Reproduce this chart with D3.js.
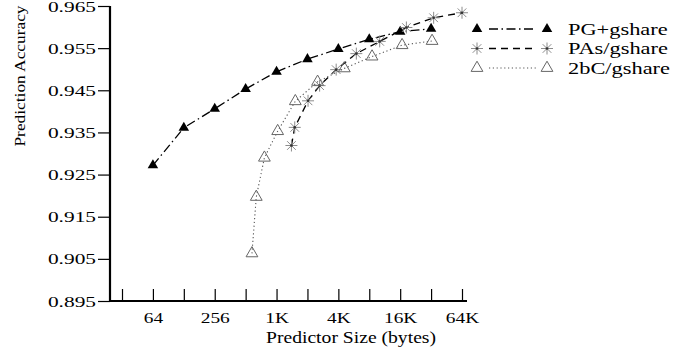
<!DOCTYPE html>
<html><head><meta charset="utf-8">
<script src="https://cdn.jsdelivr.net/npm/d3@7"></script>
<style>body{margin:0;background:#fff}svg{display:block}text{font-family:"Liberation Serif","Times New Roman",serif;fill:#000}</style>
</head><body><svg id="c" width="697" height="352"></svg>
<script>
// ---- data ----
const seriesNames = ["PG+gshare", "PAs/gshare", "2bC/gshare"];
const pgSize  = [64, 128, 256, 512, 1024, 2048, 4096, 8192, 16384, 32768];
const pgAcc   = [0.9272, 0.9361, 0.9406, 0.9453, 0.9494, 0.9524, 0.9548, 0.9571, 0.9589, 0.9596];
const pasSize = [1430, 1540, 2075, 2690, 3900, 6130, 10350, 18830, 34700, 65536];
const pasAcc  = [0.9319, 0.9362, 0.9425, 0.9461, 0.9499, 0.9537, 0.9566, 0.9599, 0.9622, 0.9634];
const bcSize  = [590, 650, 780, 1050, 1560, 2570, 4680, 8720, 17100, 33500];
const bcAcc   = [0.9063, 0.9197, 0.9290, 0.9353, 0.9424, 0.9470, 0.9502, 0.9530, 0.9557, 0.9567];
const xTickValues = [32, 64, 128, 256, 512, 1024, 2048, 4096, 8192, 16384, 32768, 65536];
const xTickLabels = ["", "64", "", "256", "", "1K", "", "4K", "", "16K", "", "64K"];
const yTickValues = [0.895, 0.905, 0.915, 0.925, 0.935, 0.945, 0.955, 0.965];
const yTickLabels = ["0.895", "0.905", "0.915", "0.925", "0.935", "0.945", "0.955", "0.965"];
const xTitle = "Predictor Size (bytes)";
const yTitle = "Prediction Accuracy";

// ---- layout ----
const svg = d3.select("#c");
const x = d3.scaleLog().base(2).domain([32, 65536]).range([122, 462]);
const y = d3.scaleLinear().domain([0.895, 0.965]).range([301, 6]);
const axisLeftX = 110, axisBottomY = 301, axisRightX = 467;

// axes
const gy = svg.append("g").attr("transform", `translate(${axisLeftX},0)`)
  .call(d3.axisLeft(y).tickValues(yTickValues).tickFormat((d,i)=>yTickLabels[i]).tickSize(12).tickSizeOuter(0));
gy.select(".domain").remove();
gy.selectAll(".tick line").attr("stroke", "#000").attr("stroke-width", 1.2);
gy.selectAll(".tick text").attr("font-size", 15.5).attr("font-family", "Liberation Serif")
  .attr("x", -14 / 1.38).attr("dy", "0.33em").attr("transform", "scale(1.38,1)");

const gx = svg.append("g").attr("transform", `translate(0,${axisBottomY})`)
  .call(d3.axisBottom(x).tickValues(xTickValues).tickFormat((d,i)=>xTickLabels[i]).tickSize(-12).tickSizeOuter(0));
gx.select(".domain").remove();
gx.selectAll(".tick line").attr("stroke", "#000").attr("stroke-width", 1.2);
gx.selectAll(".tick text").attr("font-size", 15.5).attr("font-family", "Liberation Serif")
  .attr("y", 22).attr("dy", 0).attr("transform", "scale(1.25,1)");

svg.append("line").attr("x1", axisLeftX).attr("x2", axisLeftX).attr("y1", y(0.965)).attr("y2", axisBottomY + 1)
  .attr("stroke", "#000").attr("stroke-width", 2.2);
svg.append("line").attr("x1", axisLeftX - 1).attr("x2", axisRightX).attr("y1", axisBottomY).attr("y2", axisBottomY)
  .attr("stroke", "#000").attr("stroke-width", 2.2);

// titles
svg.append("text").attr("transform", "translate(351,343) scale(1.19,1)")
  .attr("text-anchor", "middle").attr("font-size", 16.5).text(xTitle);
svg.append("text").attr("transform", "translate(25,76) rotate(-90) scale(1.12,1)")
  .attr("text-anchor", "middle").attr("font-size", 15.5).text(yTitle);

// markers
const triPath = d3.symbol().type(d3.symbolTriangle).size(48)();
const triOpenPath = d3.symbol().type(d3.symbolTriangle).size(60)();
const r = 6;
const starPath = `M${-r},0L${r},0M0,${-r}L0,${r}M${-r*0.72},${-r*0.72}L${r*0.72},${r*0.72}M${-r*0.72},${r*0.72}L${r*0.72},${-r*0.72}`;

const series = [
  { name: seriesNames[0], size: pgSize, acc: pgAcc, dash: "9,3.5,1.5,3.5", color: "#000", width: 1.3, marker: "tri" },
  { name: seriesNames[1], size: pasSize, acc: pasAcc, dash: "7,5", color: "#000", width: 1.3, marker: "star" },
  { name: seriesNames[2], size: bcSize, acc: bcAcc, dash: "1.2,2.6", color: "#555", width: 1.1, marker: "otri" },
];

function drawMarker(g, type, cx, cy) {
  if (type === "tri") {
    g.append("path").attr("d", triPath).attr("transform", `translate(${cx},${cy})`).attr("fill", "#000");
  } else if (type === "star") {
    g.append("path").attr("d", starPath).attr("transform", `translate(${cx},${cy})`)
      .attr("stroke", "#8c8c8c").attr("stroke-width", 1).attr("fill", "none");
    g.append("circle").attr("cx", cx).attr("cy", cy).attr("r", 1.3).attr("fill", "#333");
  } else {
    g.append("path").attr("d", triOpenPath).attr("transform", `translate(${cx},${cy})`)
      .attr("fill", "none").attr("stroke", "#666").attr("stroke-width", 1);
  }
}

const line = d3.line().x(d => x(d[0])).y(d => y(d[1]));
series.forEach(s => {
  const pts = s.size.map((v, i) => [v, s.acc[i]]);
  svg.append("path").datum(pts).attr("d", line).attr("fill", "none")
    .attr("stroke", s.color).attr("stroke-width", s.width).attr("stroke-dasharray", s.dash);
  const g = svg.append("g");
  pts.forEach(p => drawMarker(g, s.marker, x(p[0]), y(p[1])));
});

// legend
const legY = [29, 48.5, 68];
series.forEach((s, i) => {
  const g = svg.append("g");
  g.append("line").attr("x1", 489).attr("x2", 536).attr("y1", legY[i]).attr("y2", legY[i])
    .attr("stroke", s.color).attr("stroke-width", s.width).attr("stroke-dasharray", s.dash);
  drawMarker(g, s.marker, 477, legY[i]);
  drawMarker(g, s.marker, 547, legY[i]);
  g.append("text").attr("transform", `translate(568,${legY[i] + 5.5}) scale(1.4,1)`)
    .attr("font-size", 16).text(s.name);
});
</script></body></html>
